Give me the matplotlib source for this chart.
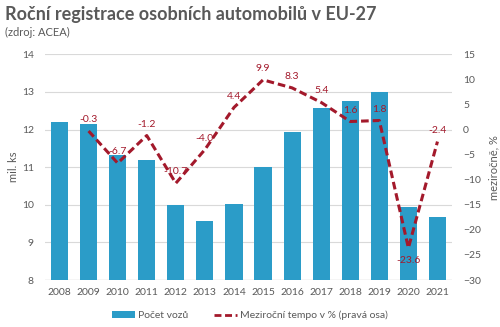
import matplotlib

matplotlib.use("Agg")

import matplotlib.pyplot as plt
import numpy as np
from matplotlib.lines import Line2D
from matplotlib.patches import Patch

YEARS = ["2008", "2009", "2010", "2011", "2012", "2013", "2014",
         "2015", "2016", "2017", "2018", "2019", "2020", "2021"]
REGISTRATIONS = [12.19, 12.15, 11.31, 11.19, 10.0, 9.58, 10.02,
                 11.01, 11.93, 12.56, 12.76, 12.99, 9.93, 9.68]
GROWTH_YEARS = YEARS[1:]
GROWTH = [-0.3, -6.7, -1.2, -10.7, -4.0, 4.4, 9.9, 8.3, 5.4, 1.6, 1.8, -23.6, -2.4]

BAR_COLOR = "#2b9cc8"
LINE_COLOR = "#a3192b"
TEXT_COLOR = "#595959"
DASH = (0, (2.5, 1.3))

plt.rcParams["font.family"] = ["Lato", "DejaVu Sans"]

fig = plt.figure(figsize=(5.0, 3.27), dpi=100)
ax = fig.add_axes([0.09, 0.1437, 0.814, 0.6903])
ax2 = ax.twinx()

x = np.arange(len(YEARS))
ax.bar(x, REGISTRATIONS, width=0.59, color=BAR_COLOR, zorder=2)
ax.set_ylim(8, 14)
ax.set_yticks(range(8, 15))
ax.set_xlim(-0.5, len(YEARS) - 0.5)
ax.set_xticks(x)
ax.set_xticklabels(YEARS)
ax.grid(axis="y", color="#d9d9d9", linewidth=0.8, zorder=0)
ax.set_axisbelow(True)

gx = x[1:]
ax2.plot(gx, GROWTH, color=LINE_COLOR, linewidth=2.2, linestyle=DASH, zorder=3)
for xi, val in zip(gx, GROWTH):
    # the 2020 label sits below its point, the rest above
    dy = -6 if val < -20 else 5
    ax2.annotate(f"{val:.1f}", (xi, val), xytext=(0, dy), textcoords="offset points",
                 ha="center", va="top" if dy < 0 else "bottom", fontsize=7.5,
                 color=LINE_COLOR)
ax2.set_ylim(-30, 15)
ax2.set_yticks(range(-30, 16, 5))

for a in (ax, ax2):
    for side in ("top", "left", "right", "bottom"):
        a.spines[side].set_visible(False)
    a.tick_params(length=0, labelsize=7.5, colors=TEXT_COLOR)
ax.axhline(8, color="#d9d9d9", linewidth=1.0, zorder=1)
ax.tick_params(axis="x", pad=6)
ax.tick_params(axis="y", pad=8)
ax2.tick_params(axis="y", pad=8)

ax.set_ylabel("mil. ks", fontsize=8, color=TEXT_COLOR, labelpad=2)
ax2.set_ylabel("meziročně, %", fontsize=8, color=TEXT_COLOR, labelpad=5)

fig.text(0.01, 0.955, "Roční registrace osobních automobilů v EU-27", fontsize=13,
         fontweight="bold", color=TEXT_COLOR, va="center", ha="left")
fig.text(0.01, 0.9, "(zdroj: ACEA)", fontsize=8, color=TEXT_COLOR, va="center", ha="left")

handles = [
    Patch(facecolor=BAR_COLOR, label="Počet vozů"),
    Line2D([0], [0], color=LINE_COLOR, linewidth=2, linestyle=DASH,
           label="Meziroční tempo v % (pravá osa)"),
]
fig.legend(handles=handles, loc="center", bbox_to_anchor=(0.5, 0.035), ncol=2, frameon=False,
           fontsize=7.5, labelcolor=TEXT_COLOR, handlelength=2.2, columnspacing=2.5,
           handletextpad=0.3)

fig.savefig("out.png", dpi=100)
